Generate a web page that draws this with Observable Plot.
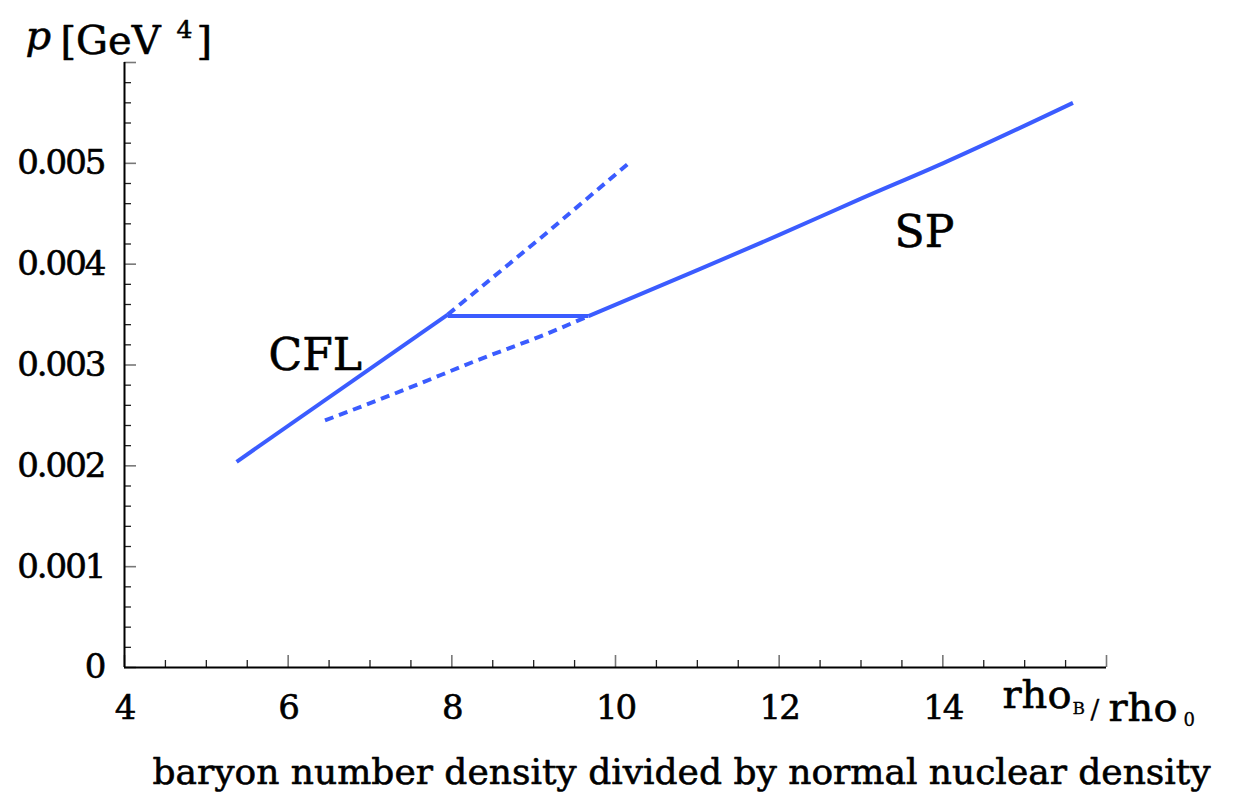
<!DOCTYPE html>
<html>
<head>
<meta charset="utf-8">
<script src="https://cdn.jsdelivr.net/npm/d3@7"></script>
<script src="https://cdn.jsdelivr.net/npm/@observablehq/plot@0.6"></script>
<style>
  html, body { margin: 0; padding: 0; background: #fff; }
  svg { display: block; }
  svg text { font-family: "DejaVu Serif", "Liberation Serif", serif !important; }
</style>
</head>
<body>
<div id="chart"></div>
<script>
// ---- data ----
const cflSolidX = [5.37, 7.95];
const cflSolidY = [0.00204, 0.00350];
const cflDashX = [7.95, 9.10, 10.16];
const cflDashY = [0.00350, 0.00427, 0.00500];
const mixedX = [7.95, 9.67];
const mixedY = [0.003485, 0.003485];
const spDashX = [6.45, 7.50, 8.32, 9.13, 9.67];
const spDashY = [0.00245, 0.00278, 0.00305, 0.00330, 0.003485];
const spSolidX = [9.67, 11, 12, 13, 14, 15.59];
const spSolidY = [0.003485, 0.00394, 0.00429, 0.00465, 0.00500, 0.00560];

const phaseLabels = ["CFL", "SP"];
const phaseLabelX = [5.76, 13.41];
const phaseLabelY = [0.00295, 0.00417];

const xMajor = [4, 6, 8, 10, 12, 14, 16];
const xLabelTicks = [4, 6, 8, 10, 12, 14];
const xMinor = [4.5, 5, 5.5, 6.5, 7, 7.5, 8.5, 9, 9.5, 10.5, 11, 11.5, 12.5, 13, 13.5, 14.5, 15, 15.5];
const yMajor = [0, 0.001, 0.002, 0.003, 0.004, 0.005, 0.006];
const yLabelTicks = [0, 0.001, 0.002, 0.003, 0.004, 0.005];
const yMinor = [0.0002, 0.0004, 0.0006, 0.0008, 0.0012, 0.0014, 0.0016, 0.0018,
  0.0022, 0.0024, 0.0026, 0.0028, 0.0032, 0.0034, 0.0036, 0.0038,
  0.0042, 0.0044, 0.0046, 0.0048, 0.0052, 0.0054, 0.0056, 0.0058];

const zip = (xs, ys) => xs.map((x, i) => ({x, y: ys[i]}));
const labelData = phaseLabels.map((t, i) => ({t, x: phaseLabelX[i], y: phaseLabelY[i]}));

const serif = "DejaVu Serif";
const blue = "#3b5cff";
const lineOpts = {x: "x", y: "y", stroke: blue, strokeWidth: 4, strokeLinecap: "butt"};
const dashOpts = {...lineOpts, strokeDasharray: "9,6"};
const fmtY = d => d === 0 ? "0" : d.toFixed(3);
const heavy = {stroke: "#000", strokeWidth: 0.6};
const txt = (s, o) => Plot.text([s], {textAnchor: "start", lineAnchor: "bottom", fill: "#000", fontFamily: serif, ...heavy, ...o});

const chart = Plot.plot({
  width: 1241,
  height: 792,
  marginLeft: 124,
  marginRight: 135,
  marginTop: 62,
  marginBottom: 125,
  style: {fontFamily: serif, color: "#000", background: "#fff"},
  x: {domain: [4, 16]},
  y: {domain: [0, 0.006]},
  marks: [
    // ticks (inward)
    Plot.axisX({ticks: xMinor, tickSize: -7, tickFormat: () => "", label: null, stroke: "#222", strokeWidth: 1.3}),
    Plot.axisX({ticks: xMajor, tickSize: -12, tickFormat: () => "", label: null, stroke: "#777", strokeWidth: 1.6}),
    Plot.axisY({ticks: yMinor, tickSize: -7, tickFormat: () => "", label: null, stroke: "#222", strokeWidth: 1.3}),
    Plot.axisY({ticks: yMajor, tickSize: -12, tickFormat: () => "", label: null, stroke: "#777", strokeWidth: 1.6}),
    // tick labels
    Plot.axisX({ticks: xLabelTicks, tickSize: 0, tickPadding: 27, fontSize: 34, fontFamily: serif, label: null}),
    Plot.axisY({ticks: yLabelTicks, tickSize: 0, tickPadding: 20, fontSize: 34, fontFamily: serif, tickFormat: fmtY, label: null}),
    // axis lines
    Plot.ruleX([4], {stroke: "#000", strokeWidth: 2}),
    Plot.ruleY([0], {stroke: "#000", strokeWidth: 2}),
    // curves
    Plot.line(zip(cflDashX, cflDashY), dashOpts),
    Plot.line(zip(spDashX, spDashY), {...dashOpts, curve: "monotone-x"}),
    Plot.line(zip(cflSolidX, cflSolidY), lineOpts),
    Plot.line(zip(mixedX, mixedY), lineOpts),
    Plot.line(zip(spSolidX, spSolidY), {...lineOpts, curve: "monotone-x"}),
    // phase labels
    Plot.text(labelData, {x: "x", y: "y", text: "t", fontSize: 44, fontFamily: serif, textAnchor: "start", lineAnchor: "bottom", fill: "#000", ...heavy}),
    // y title: p [GeV^4]
    txt("p", {frameAnchor: "top-left", dx: -99, dy: -14, fontSize: 40, fontStyle: "italic"}),
    txt("[GeV", {frameAnchor: "top-left", dx: -64, dy: -9, fontSize: 40, ariaLabel: "gev"}),
    txt("4", {frameAnchor: "top-left", dx: 52, dy: -25, fontSize: 25}),
    txt("]", {frameAnchor: "top-left", dx: 72, dy: -9, fontSize: 40}),
    // x title: rho_B / rho_0
    txt("rho", {frameAnchor: "bottom-right", dx: -104, dy: 40, fontSize: 40, ariaLabel: "rho1"}),
    txt("B", {frameAnchor: "bottom-right", dx: -34, dy: 46, fontSize: 17, strokeWidth: 0.3}),
    txt("/", {frameAnchor: "bottom-right", dx: -16, dy: 50, fontSize: 26, strokeWidth: 0.3}),
    txt("rho", {frameAnchor: "bottom-right", dx: 2, dy: 53, fontSize: 40, ariaLabel: "rho2"}),
    txt("0", {frameAnchor: "bottom-right", dx: 77, dy: 58, fontSize: 18, strokeWidth: 0.3}),
    // description
    txt("baryon number density divided by normal nuclear density", {frameAnchor: "bottom-left", dx: 28, dy: 116, fontSize: 36, ariaLabel: "desc"})
  ]
});

document.getElementById("chart").appendChild(chart);

// letter-spacing / fitting / weight tweaks
const root = d3.select(chart);
root.selectAll('[aria-label="x-axis tick label"], [aria-label="y-axis tick label"]')
  .attr("stroke", "#000").attr("stroke-width", 0.6).attr("paint-order", "stroke")
  .selectAll("text").style("letter-spacing", "-2px");
root.selectAll('[aria-label="gev"] text').style("letter-spacing", "7px");
root.selectAll('[aria-label="rho1"] text').style("letter-spacing", "1.5px");
root.selectAll('[aria-label="rho2"] text').style("letter-spacing", "3px");
root.selectAll('[aria-label="desc"] text').attr("textLength", 1085).attr("lengthAdjust", "spacingAndGlyphs");
</script>
</body>
</html>
